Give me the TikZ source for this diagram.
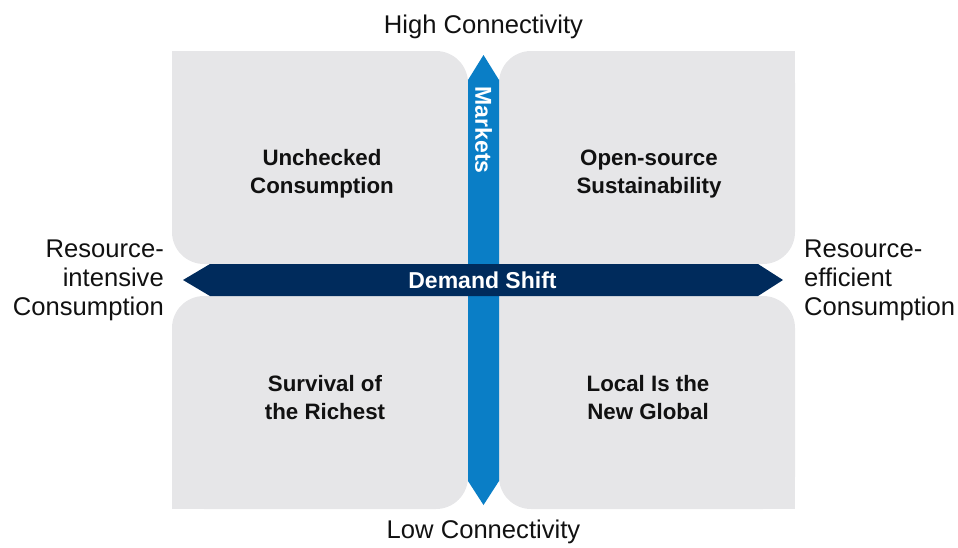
\documentclass[tikz,border=0pt]{standalone}
\usepackage{fontspec}
\setmainfont{Liberation Sans}
\definecolor{quadgray}{HTML}{E6E6E8}
\definecolor{mktblue}{HTML}{0A7EC6}
\definecolor{navy}{HTML}{002B5C}
\definecolor{ink}{HTML}{111111}
\begin{document}
\begin{tikzpicture}[x=1pt,y=-1pt,
  quad/.style={fill=quadgray},
  quadlabel/.style={text=ink,align=center,font=\fontsize{22.3}{28}\selectfont\bfseries,inner sep=0pt},
  sidelabel/.style={text=ink,font=\fontsize{25.6}{29}\selectfont,inner sep=0pt},
  axislabel/.style={text=ink,font=\fontsize{25.6}{29}\selectfont,inner sep=0pt,anchor=base},
  arrowtext/.style={text=white,font=\fontsize{23}{26}\selectfont\bfseries,inner sep=0pt}]
\useasboundingbox (0,0) rectangle (958,547);
% quadrants
\fill[quad,rounded corners=32pt] (172,51) rectangle (468,264);
\fill[quad] (172,51) rectangle (230,110);
\fill[quad] (420,220) rectangle (468,264);
\fill[quad,rounded corners=32pt] (499,51) rectangle (795,264);
\fill[quad] (740,51) rectangle (795,110);
\fill[quad] (499,220) rectangle (545,264);
\fill[quad,rounded corners=32pt] (172,296) rectangle (468,509);
\fill[quad] (172,450) rectangle (230,509);
\fill[quad] (420,296) rectangle (468,340);
\fill[quad,rounded corners=32pt] (499,296) rectangle (795,509);
\fill[quad] (740,450) rectangle (795,509);
\fill[quad] (499,296) rectangle (545,340);
% vertical arrow
\coordinate (vtop) at (483.5,55);
\coordinate (vbot) at (483.5,505);
\fill[mktblue] (468,80) -- (vtop) -- (499,80) -- (499,481) -- (vbot) -- (468,481) -- cycle;
% horizontal arrow
\coordinate (hleft) at (183,280);
\coordinate (hright) at (783,280);
\fill[navy] (210,264) -- (hleft) -- (210,296) -- (758,296) -- (hright) -- (758,264) -- cycle;
% arrow labels
\node[arrowtext,rotate=-90] (markets) at (483.5,130) {Markets};
\node[arrowtext] (demand) at (482.5,280) {Demand Shift};
% axis labels
\node[axislabel] (high) at (483.5,33) {High Connectivity};
\node[axislabel] (low) at (483.5,538) {Low Connectivity};
\node[sidelabel,anchor=east,align=right] (left) at (164,280) {Resource-\\intensive\\Consumption};
\node[sidelabel,anchor=west,align=left] (right) at (804,280) {Resource-\\efficient\\Consumption};
% quadrant labels
\node[quadlabel] (q1) at (322,174) {Unchecked\\Consumption};
\node[quadlabel] (q2) at (649,174) {Open-source\\Sustainability};
\node[quadlabel] (q3) at (325,398) {Survival of\\the Richest};
\node[quadlabel] (q4) at (648,398) {Local Is the\\New Global};
\end{tikzpicture}
\end{document}
